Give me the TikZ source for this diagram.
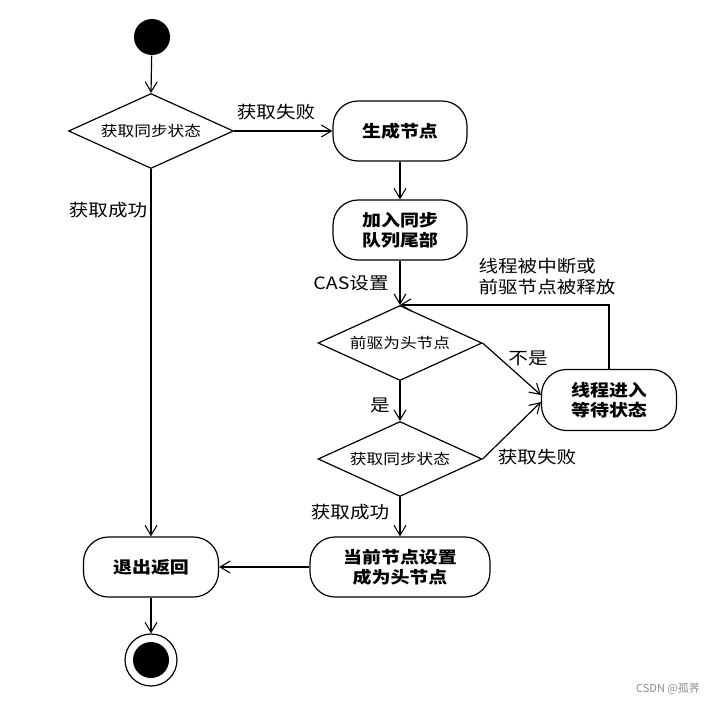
\documentclass[tikz,border=0pt]{standalone}
\usepackage{fontspec}
\setmainfont{Noto Sans CJK SC}[FakeStretch=1.15]
\newfontfamily\wmfont{Noto Sans CJK SC}
\usetikzlibrary{shapes.geometric,arrows.meta}
\begin{document}
\begin{tikzpicture}[x=1pt,y=-1pt,line width=1.2pt,
  arr/.style={-{Straight Barb[length=10pt,width=12pt,line width=1.1pt]}},
  dec/.style={diamond,aspect=2.2,draw,inner sep=0pt,minimum width=165pt,minimum height=75pt,font=\fontsize{14.5}{16}\selectfont},
  act/.style={draw,rounded corners=25pt,minimum width=134pt,minimum height=60pt,align=center,font=\fontsize{16.5}{20}\selectfont\bfseries},
  lab/.style={font=\fontsize{17}{21}\selectfont,inner sep=0pt},
  wm/.style={font=\wmfont\fontsize{11}{13}\selectfont,text=black!45,inner sep=0pt}]
\useasboundingbox[fill=white] (0,0) rectangle (720,704);
% nodes
\node[circle,fill=black,minimum size=36pt,inner sep=0pt] (start) at (152,37) {};
\node[dec] (d1) at (151,131) {获取同步状态};
\node[act] (b1) at (400,131) {生成节点};
\node[act] (b2) at (400,230) {加入同步\\队列尾部};
\node[dec,minimum width=164pt] (d2) at (400,343) {前驱为头节点};
\node[dec,minimum width=164pt] (d3) at (400,459) {获取同步状态};
\node[act,minimum width=135pt,minimum height=61pt] (b3) at (609,400) {线程进入\\等待状态};
\node[act,minimum width=180pt] (b4) at (400,567) {当前节点设置\\成为头节点};
\node[act,minimum width=135pt] (b5) at (151,567) {退出返回};
\node[circle,draw,minimum size=52pt,inner sep=0pt] (end) at (151,660) {};
\node[circle,fill=black,minimum size=36pt,inner sep=0pt] (endin) at (151,660) {};
% labels
\node[lab] (l1) at (276,112) {获取失败};
\node[lab] (l2) at (108,210) {获取成功};
\node[lab] (l3) at (351,283) {CAS设置};
\node[lab,align=left,anchor=north west] (l4) at (478,258) {线程被中断或\\前驱节点被释放};
\node[lab] (l5) at (528,358) {不是};
\node[lab] (l6) at (380,405) {是};
\node[lab] (l7) at (537,457) {获取失败};
\node[lab] (l8) at (350,512) {获取成功};
\node[wm] (wm) at (668,689) {CSDN @孤荠};
% connectors
\draw[arr] (start) -- (d1.north);
\draw[arr] (d1.east) -- (b1.west);
\draw[arr] (b1.south) -- (b2.north);
\draw[arr] (b2.south) -- (d2.north);
\draw[arr] (d2.south) -- (d3.north);
\draw[arr] (d2.east) -- ([yshift=5pt]b3.west);
\draw[arr] (d3.east) -- ([yshift=-2pt]b3.west);
\draw[arr] (b3.north) |- (d2.north);
\draw[arr] (d3.south) -- (b4.north);
\draw[arr] (b4.west) -- (b5.east);
\draw[arr] (d1.south) -- (b5.north);
\draw[arr] (b5.south) -- (end.north);
\end{tikzpicture}
\end{document}
